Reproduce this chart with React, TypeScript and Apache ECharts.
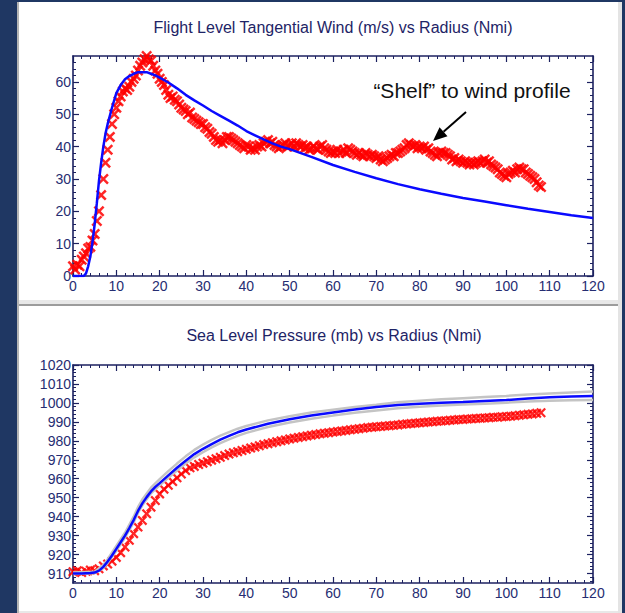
import React, { useEffect, useRef } from "react";
import * as echarts from "echarts";

// ---- Flight level tangential wind (m/s) ----
// Observed wind, sampled every 0.5 Nmi from 0 to 108 Nmi
const windStepNmi = 0.5;
const windObserved = [
  3, 2, 3.5, 3, 5, 6, 7, 8.5, 9, 11,
  13, 17, 20, 25, 30, 35, 39, 43, 47, 50,
  52, 54, 55.5, 57, 58, 57.5, 58.5, 60, 61, 62,
  63.5, 65, 66, 67, 68, 67, 66.5, 65, 63.5, 62.5,
  61, 60, 59, 57.5, 56, 55, 55.5, 54.5, 54, 53,
  52, 51.5, 51, 50, 50.5, 49, 48.5, 48, 47.5, 47,
  47, 46, 45.5, 44.5, 44, 43, 42, 41.5, 42, 41,
  42, 43, 43, 42.5, 42, 41.5, 41, 40.5, 40, 39.5,
  40.5, 40, 39, 39.5, 39, 40, 40.5, 40, 41, 41.5,
  42, 41, 41.5, 40.5, 40, 39.5, 40, 40.5, 41, 40,
  40.5, 41, 40, 41, 40.5, 40, 40.5, 39.5, 40, 39,
  39.5, 40, 39.5, 39, 40, 40.5, 39.5, 39, 38.5, 38,
  38.5, 38, 39, 38, 38.5, 39, 38, 39.5, 39, 38.5,
  38, 37.5, 38, 37.5, 37, 38, 37.5, 37, 37.5, 37,
  36.5, 37, 36, 35.5, 36, 36.5, 37, 37.5, 37, 38,
  38, 38.5, 39, 39.5, 40.5, 41, 40.5, 40, 40.5, 39.5,
  40, 39.5, 40, 39, 39.5, 38.5, 38, 37.5, 37, 38,
  38.5, 38, 38, 37.5, 37, 36, 36.5, 35.5, 36, 35.5,
  35, 35.5, 35, 34.5, 35, 34.5, 35, 35.5, 35, 35.5,
  36, 35, 35.5, 34.5, 34, 33.5, 33, 32, 31.5, 31,
  30.5, 31.5, 32, 32.5, 32, 33, 33.5, 33, 33, 32,
  31.5, 31, 30.5, 30, 29, 28, 27.5,
];

// Model wind profile: [radius Nmi, wind m/s]
const windModel = [
  [0, 0], [2.5, 0], [3, 0.8], [3.5, 3], [4, 6], [4.5, 10.5], [5, 16], [5.5, 22.5],
  [6, 29.5], [6.5, 35], [7, 40], [7.5, 44], [8, 47], [8.5, 49.5], [9, 52], [10, 56.5],
  [11, 59], [12, 60.8], [13, 61.8], [14, 62.5], [15, 63], [16, 63], [17, 63], [18, 62.5],
  [19, 62], [20, 61.3], [22, 59.8], [24, 58], [26, 56], [28, 54.3], [30, 52.7], [32, 51],
  [34, 49.5], [36, 48], [38, 46.5], [40, 44.8], [42, 43.5], [44, 42.2], [46, 41], [48, 40],
  [50, 39.2], [55, 36.8], [60, 34.3], [65, 32.2], [70, 30.2], [75, 28.4], [80, 26.8],
  [85, 25.4], [90, 24.1], [95, 23], [100, 21.9], [105, 20.8], [110, 19.8], [115, 18.8],
  [120, 17.9],
];

// ---- Sea level pressure (mb) ----
// Observed pressure, sampled every 1 Nmi from 0 to 108 Nmi
const pressureStepNmi = 1;
const pressureObserved = [
  911, 911.5, 910.5, 911.2, 911.8, 911.5, 912.5, 914, 915, 916.5,
  918.5, 921, 924, 927.5, 931, 934.5, 938, 941.5, 945, 948.5,
  952, 954.5, 956.5, 958.5, 960.5, 962.5, 964.3, 965.8, 966.5, 967.5,
  968.2, 969, 969.8, 970.6, 971.3, 972.2, 973, 973.7, 974.3, 974.9,
  975.5, 976.2, 976.8, 977.4, 978, 978.5, 979, 979.5, 980, 980.5,
  981, 981.4, 981.8, 982.2, 982.6, 983, 983.3, 983.7, 984, 984.3,
  984.6, 984.9, 985.2, 985.5, 985.8, 986.1, 986.4, 986.7, 987, 987.2,
  987.4, 987.6, 987.8, 988, 988.2, 988.4, 988.7, 988.9, 989.1, 989.3,
  989.5, 989.7, 989.9, 990.1, 990.3, 990.5, 990.6, 990.8, 991, 991.2,
  991.3, 991.5, 991.6, 991.8, 991.9, 992.1, 992.2, 992.4, 992.5, 992.7,
  992.8, 993, 993.2, 993.5, 993.7, 994, 994.2, 994.5, 994.8,
];

// Model pressure profile and its upper / lower envelope: [radius Nmi, mb]
const pressureModel = [
  [0, 910], [2, 910], [4, 910.3], [5, 910.5], [6, 911.5], [7, 913.5], [8, 916.3], [9, 919.5],
  [10, 923], [11, 926.5], [12, 930], [13, 934], [14, 938.2], [15, 943], [16, 947], [17, 950.3],
  [18, 953.3], [19, 955.7], [20, 957.7], [22, 961.8], [24, 965.8], [26, 969.5], [28, 973],
  [30, 975.8], [32, 978.3], [34, 980.6], [36, 982.6], [38, 984.5], [40, 986], [45, 989],
  [50, 991.4], [55, 993.4], [60, 995], [65, 996.5], [70, 997.8], [75, 998.9], [80, 999.6],
  [85, 1000.1], [90, 1000.5], [95, 1001], [100, 1001.5], [105, 1002.3], [110, 1003],
  [115, 1003.4], [120, 1003.7],
];
const pressureUpper = [
  [0, 910.6], [5, 911], [7, 914.5], [8, 917.5], [10, 924.5], [12, 931.5], [14, 940], [15, 945],
  [16, 949], [18, 955.3], [20, 959.8], [22, 964], [24, 968], [26, 971.8], [28, 975.2], [30, 978],
  [32, 980.5], [34, 982.7], [36, 984.6], [38, 986.4], [40, 987.8], [45, 990.8], [50, 993],
  [55, 994.9], [60, 996.4], [65, 997.8], [70, 999], [75, 1000.3], [80, 1001.2], [85, 1001.9],
  [90, 1002.5], [95, 1003.1], [100, 1003.7], [105, 1004.4], [110, 1005], [115, 1005.5], [120, 1006],
];
const pressureLower = [
  [0, 909.8], [5, 910.2], [7, 912.8], [8, 915.5], [10, 922], [12, 929], [14, 937], [15, 942],
  [16, 946], [18, 952.3], [20, 956.5], [22, 960.5], [24, 964.3], [26, 968], [28, 971.3], [30, 974],
  [32, 976.5], [34, 978.8], [36, 980.8], [38, 982.6], [40, 984.2], [45, 987.3], [50, 989.7],
  [55, 991.7], [60, 993.3], [65, 994.8], [70, 996], [75, 997.2], [80, 998], [85, 998.6],
  [90, 999.1], [95, 999.6], [100, 1000.1], [105, 1000.8], [110, 1001.2], [115, 1001.4], [120, 1001.6],
];

// ---- Axis ticks ----
const radiusTicks = { min: 0, max: 120, interval: 10 };
const windRange = { min: 0, max: 68 };
const windMajor = [0, 10, 20, 30, 40, 50, 60];
const windMinor = [2, 4, 6, 8, 12, 14, 16, 18, 22, 24, 26, 28, 32, 34, 36, 38, 42, 44, 46, 48, 52, 54, 56, 58, 62, 64, 66];
const pressureRange = { min: 905, max: 1020 };
const pressureMajor = [910, 920, 930, 940, 950, 960, 970, 980, 990, 1000, 1010, 1020];
const pressureMinor = [
  906, 908, 912, 914, 916, 918, 922, 924, 926, 928, 932, 934, 936, 938, 942, 944, 946, 948,
  952, 954, 956, 958, 962, 964, 966, 968, 972, 974, 976, 978, 982, 984, 986, 988, 992, 994,
  996, 998, 1002, 1004, 1006, 1008, 1012, 1014, 1016, 1018,
];

const windTitle = "Flight Level Tangential Wind (m/s) vs Radius (Nmi)";
const pressureTitle = "Sea Level Pressure (mb) vs Radius (Nmi)";
const shelfNote = "\u201CShelf\u201D to wind profile";

const NAVY = "#1f3763";
const AXIS = "#1c2160";
const LABEL = "#262d72";
const FONT = "'Liberation Sans', Arial, Helvetica, sans-serif";

// Filled "x" cross used for the observation markers
const crossSymbol =
  "path://M0,1.6L1.6,0L5,3.4L8.4,0L10,1.6L6.6,5L10,8.4L8.4,10L5,6.6L1.6,10L0,8.4L3.4,5Z";

function buildOption() {
  const windGrid = { left: 73, top: 56, width: 520, height: 220 };
  const pressGrid = { left: 73, top: 365, width: 520, height: 218 };
  const grids: any[] = [];
  const xAxes: any[] = [];
  const yAxes: any[] = [];

  const panels = [
    { rect: windGrid, range: windRange, major: windMajor, minor: windMinor },
    { rect: pressGrid, range: pressureRange, major: pressureMajor, minor: pressureMinor },
  ];

  panels.forEach((p) => {
    // 4 overlaid grids per panel: main frame, mirrored frame, and minor ticks on both sides
    for (let k = 0; k < 4; k++) {
      const gi = grids.length;
      grids.push({ ...p.rect, containLabel: false });
      const mirrored = k === 1 || k === 3;
      const minorOnly = k >= 2;
      if (!minorOnly) {
        xAxes.push({
          type: "value",
          gridIndex: gi,
          ...radiusTicks,
          position: mirrored ? "top" : "bottom",
          axisLine: { show: true, onZero: false, lineStyle: { color: AXIS, width: 1.6 } },
          axisTick: { show: true, inside: true, length: 6, lineStyle: { color: AXIS, width: 1.2 } },
          minorTick: { show: true, splitNumber: 5, length: 3, lineStyle: { color: AXIS, width: 1 } },
          axisLabel: {
            show: !mirrored,
            margin: 3,
            color: LABEL,
            fontSize: 14,
            fontFamily: FONT,
          },
          splitLine: { show: false },
        });
      } else {
        xAxes.push({ type: "value", gridIndex: gi, ...radiusTicks, show: false });
      }
      yAxes.push({
        type: "value",
        gridIndex: gi,
        min: p.range.min,
        max: p.range.max,
        position: mirrored ? "right" : "left",
        axisLine: { show: !minorOnly, onZero: false, lineStyle: { color: AXIS, width: 1.6 } },
        axisTick: {
          show: true,
          inside: true,
          length: minorOnly ? 3 : 6,
          customValues: minorOnly ? p.minor : p.major,
          lineStyle: { color: AXIS, width: minorOnly ? 1 : 1.2 },
        },
        axisLabel: {
          show: !mirrored && !minorOnly,
          customValues: p.major,
          formatter: (v: number) => String(v),
          margin: 2,
          color: LABEL,
          fontSize: 14,
          fontFamily: FONT,
        },
        splitLine: { show: false },
      });
    }
  });

  const scatterStyle = {
    type: "scatter",
    symbol: crossSymbol,
    symbolSize: 11,
    itemStyle: { color: "#ff0000", opacity: 0.85 },
    emphasis: { disabled: true },
    silent: true,
  };
  const lineStyle = (color: string, width: number) => ({
    type: "line",
    showSymbol: false,
    symbol: "none",
    lineStyle: { color, width },
    emphasis: { disabled: true },
    silent: true,
  });

  const series: any[] = [
    {
      ...scatterStyle,
      name: "Observed wind",
      xAxisIndex: 0,
      yAxisIndex: 0,
      data: windObserved.map((v, i) => [i * windStepNmi, v]),
    },
    { ...lineStyle("#0a0aff", 2.5), name: "Model wind", xAxisIndex: 0, yAxisIndex: 0, data: windModel },
    {
      ...scatterStyle,
      symbolSize: 10,
      name: "Observed pressure",
      xAxisIndex: 4,
      yAxisIndex: 4,
      data: pressureObserved.map((v, i) => [i * pressureStepNmi, v]),
    },
    { ...lineStyle("#c4c4c4", 2.5), name: "Upper", xAxisIndex: 4, yAxisIndex: 4, data: pressureUpper },
    { ...lineStyle("#c4c4c4", 2.5), name: "Lower", xAxisIndex: 4, yAxisIndex: 4, data: pressureLower },
    { ...lineStyle("#0a0aff", 2.5), name: "Model pressure", xAxisIndex: 4, yAxisIndex: 4, data: pressureModel },
  ];

  // Arrow pointing at the shelf in the wind profile
  const tail = [466, 112];
  const tip = [433, 141];
  const dx = tip[0] - tail[0];
  const dy = tip[1] - tail[1];
  const len = Math.hypot(dx, dy);
  const ux = dx / len;
  const uy = dy / len;
  const headLen = 14;
  const headHalf = 6;
  const base = [tip[0] - ux * headLen, tip[1] - uy * headLen];

  const graphic: any[] = [
    {
      type: "text",
      x: 333,
      y: 27,
      style: { text: windTitle, fill: "#1e2466", font: `16px ${FONT}`, textAlign: "center", textVerticalAlign: "middle" },
    },
    {
      type: "text",
      x: 334,
      y: 335,
      style: { text: pressureTitle, fill: "#1e2466", font: `16px ${FONT}`, textAlign: "center", textVerticalAlign: "middle" },
    },
    {
      type: "text",
      x: 472,
      y: 90,
      z: 100,
      style: { text: shelfNote, fill: "#111111", font: `21px ${FONT}`, textAlign: "center", textVerticalAlign: "middle" },
    },
    {
      type: "line",
      z: 100,
      shape: { x1: tail[0], y1: tail[1], x2: base[0], y2: base[1] },
      style: { stroke: "#000000", lineWidth: 2 },
    },
    {
      type: "polygon",
      z: 100,
      shape: {
        points: [
          tip,
          [base[0] - uy * headHalf, base[1] + ux * headHalf],
          [base[0] + uy * headHalf, base[1] - ux * headHalf],
        ],
      },
      style: { fill: "#000000" },
    },
  ];

  return {
    animation: false,
    backgroundColor: "transparent",
    grid: grids,
    xAxis: xAxes,
    yAxis: yAxes,
    series,
    graphic,
  };
}

export default function App() {
  const ref = useRef<HTMLDivElement>(null);

  useEffect(() => {
    if (!ref.current) return;
    const chart = echarts.init(ref.current, null, { renderer: "svg" });
    chart.setOption(buildOption() as any);
    return () => chart.dispose();
  }, []);

  const box = (left: number, top: number, width: number, height: number, background: string) => (
    <div style={{ position: "absolute", left, top, width, height, background }} />
  );

  return (
    <div style={{ position: "fixed", left: 0, top: 0, width: 625, height: 613, background: NAVY, overflow: "hidden" }}>
      {box(17, 2, 2, 611, "#b4b4b4")}
      {box(19, 2, 599, 298, "#ffffff")}
      {box(618, 2, 4, 611, "#e4e4e4")}
      {box(19, 300, 599, 4, "#e8e8e8")}
      {box(19, 304, 599, 2, "#9c9c9c")}
      {box(19, 306, 599, 305, "#ffffff")}
      {box(19, 611, 599, 2, "#e8e8e8")}
      <div ref={ref} style={{ position: "absolute", left: 0, top: 0, width: 625, height: 613 }} />
    </div>
  );
}
